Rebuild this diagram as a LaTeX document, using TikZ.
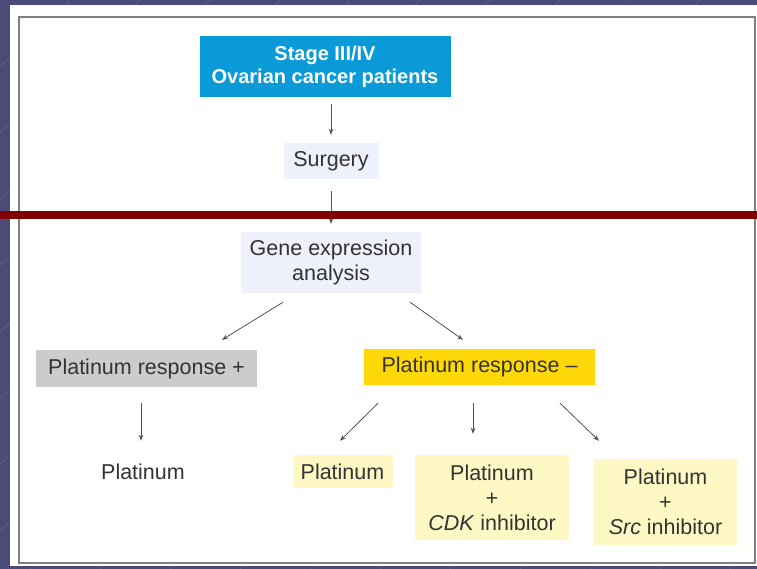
\documentclass[tikz,border=0pt]{standalone}
\usepackage{fontspec}
\setmainfont{Liberation Sans}
\usepackage{tikz}
\usetikzlibrary{arrows.meta}
\usepackage{xcolor}

\definecolor{slide}{HTML}{4B4A78}
\definecolor{stageblue}{HTML}{0A9AD8}
\definecolor{lavender}{HTML}{EEF0FC}
\definecolor{respgray}{HTML}{CCCCCC}
\definecolor{respyellow}{HTML}{FFD80A}
\definecolor{paleyellow}{HTML}{FDF8C4}
\definecolor{band}{HTML}{800000}
\definecolor{ink}{HTML}{333333}

\tikzset{
	box/.style={inner sep=0pt, align=center, text=ink, font=\fontsize{21.5}{25}\selectfont},
	arr/.style={-{Stealth[length=6pt,width=4.5pt]}, draw=ink!85, line width=0.8pt},
}

\begin{document}
\begin{tikzpicture}[x=1pt, y=-1pt]
	% slide background
	\fill[slide] (0,0) rectangle (757,569);
	\begin{scope}
		\clip (0,0) rectangle (757,569);
		\foreach \k in {0,70,...,1400}
			\draw[white, opacity=.12, line width=.6pt] (\k-600,569) -- (\k,0);
	\end{scope}
	\fill[white] (10,5) rectangle (757,566);
	\draw[gray, line width=2pt] (19,17) rectangle (755,563);
	
	\node[box, fill=stageblue, text=white, font=\bfseries\fontsize{20}{23}\selectfont,
		minimum width=251pt, minimum height=61pt] (stage) at (325,66.5) {Stage III/IV\\Ovarian cancer patients};
	
	\node[box, fill=lavender, minimum width=95pt, minimum height=36pt] (surgery) at (331,161) {Surgery};
	
	\node[box, fill=lavender, minimum width=180pt, minimum height=61pt] (gene) at (331,262.5) {Gene expression\\analysis};
	
	\node[box, fill=respgray, minimum width=221pt, minimum height=37pt] (pplus) at (146.5,368.5) {Platinum response +};
	\node[box, fill=respyellow, minimum width=231pt, minimum height=36pt] (pminus) at (479.5,367) {Platinum response –};
	
	\node[box, minimum width=90pt, minimum height=33pt] (plat0) at (143,471.5) {Platinum};
	\node[box, fill=paleyellow, minimum width=100pt, minimum height=33pt] (plat1) at (342.5,471.5) {Platinum};
	\node[box, fill=paleyellow, minimum width=154pt, minimum height=85pt] (plat2) at (492,497.5) {Platinum\\+\\\textit{CDK} inhibitor};
	\node[box, fill=paleyellow, minimum width=143pt, minimum height=86pt] (plat3) at (665.5,502) {Platinum\\+\\\textit{Src} inhibitor};
	
	\draw[arr] ([xshift=6pt,yshift=-7pt]stage.south) -- ([yshift=8pt]surgery.north);
	\draw[arr] ([yshift=-12pt]surgery.south) -- ([yshift=8pt]gene.north);
	
	\draw[arr] ([xshift=-48pt,yshift=-9pt]gene.south) -- ([xshift=75.5pt,yshift=10pt]pplus.north);
	\draw[arr] ([xshift=79pt,yshift=-9pt]gene.south) -- ([xshift=-16.5pt,yshift=9pt]pminus.north);
	
	\draw[arr] ([xshift=-5.5pt,yshift=-16pt]pplus.south) -- ([xshift=-2pt,yshift=14pt]plat0.north);
	\draw[arr] ([xshift=-101.5pt,yshift=-18pt]pminus.south) -- ([xshift=-2.5pt,yshift=14pt]plat1.north);
	\draw[arr] ([xshift=-6.5pt,yshift=-18pt]pminus.south) -- ([xshift=-19pt,yshift=21pt]plat2.north);
	\draw[arr] ([xshift=80.5pt,yshift=-18pt]pminus.south) -- ([xshift=-66.5pt,yshift=18pt]plat3.north);
	
	% slide divider
	\fill[band] (0,211) rectangle (757,219);
\end{tikzpicture}
\end{document}
